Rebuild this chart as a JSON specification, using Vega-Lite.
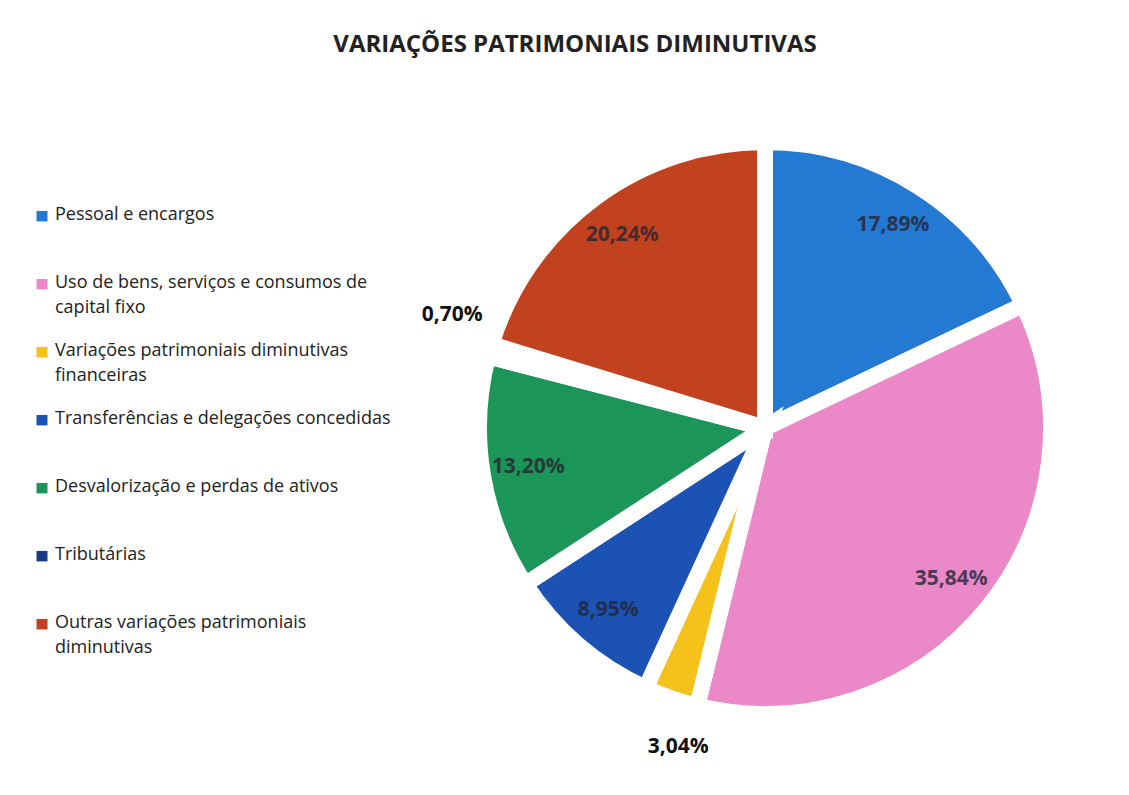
{
  "$schema": "https://vega.github.io/schema/vega-lite/v6.json",
  "width": 600,
  "height": 600,
  "autosize": {"type": "none"},
  "padding": {"left": 465, "top": 128, "right": 64, "bottom": 67},
  "background": "white",
  "title": {
    "text": "VARIAÇÕES PATRIMONIAIS DIMINUTIVAS",
    "font": "Open Sans",
    "fontSize": 24,
    "fontWeight": "bold",
    "color": "#222222",
    "anchor": "middle",
    "dx": -190,
    "offset": 53
  },
  "data": {
    "values": [
      {"categoria": "Pessoal e encargos", "valor": 17.89, "ordem": 1},
      {"categoria": "Uso de bens, serviços e consumos de capital fixo", "valor": 35.84, "ordem": 2},
      {"categoria": "Variações patrimoniais diminutivas financeiras", "valor": 3.04, "ordem": 3},
      {"categoria": "Transferências e delegações concedidas", "valor": 8.95, "ordem": 4},
      {"categoria": "Desvalorização e perdas de ativos", "valor": 13.20, "ordem": 5},
      {"categoria": "Tributárias", "valor": 0.70, "ordem": 6},
      {"categoria": "Outras variações patrimoniais diminutivas", "valor": 20.24, "ordem": 7}
    ]
  },
  "transform": [
    {"calculate": "replace(format(datum.valor, '.2f'), '.', ',') + '%'", "as": "rotulo"}
  ],
  "layer": [
    {
      "mark": {"type": "arc", "outerRadius": 286, "stroke": "white", "strokeWidth": 16},
      "encoding": {
        "theta": {"field": "valor", "type": "quantitative", "stack": true},
        "order": {"field": "ordem", "type": "quantitative"},
        "color": {
          "field": "categoria",
          "type": "nominal",
          "scale": {
            "domain": [
              "Pessoal e encargos",
              "Uso de bens, serviços e consumos de capital fixo",
              "Variações patrimoniais diminutivas financeiras",
              "Transferências e delegações concedidas",
              "Desvalorização e perdas de ativos",
              "Tributárias",
              "Outras variações patrimoniais diminutivas"
            ],
            "range": ["#2479d2", "#ea88c8", "#f4c21a", "#1c52b4", "#1b9558", "#1a3a86", "#c2411f"]
          },
          "legend": {
            "orient": "none",
            "legendX": -432,
            "legendY": 69,
            "title": null,
            "symbolType": "M-1,0.9H1V2.8H-1Z",
            "symbolSize": 121,
            "symbolStrokeWidth": 0,
            "labelFont": "Open Sans",
            "labelFontSize": 18,
            "labelColor": "#222222",
            "labelLimit": 420,
            "labelBaseline": "top",
            "labelOffset": 4,
            "gridAlign": "all",
            "rowPadding": 16,
            "labelExpr": "datum.label == 'Uso de bens, serviços e consumos de capital fixo' ? ['Uso de bens, serviços e consumos de', 'capital fixo'] : datum.label == 'Variações patrimoniais diminutivas financeiras' ? ['Variações patrimoniais diminutivas', 'financeiras'] : datum.label == 'Outras variações patrimoniais diminutivas' ? ['Outras variações patrimoniais', 'diminutivas'] : datum.label"
          }
        }
      }
    },
    {
      "mark": {"type": "text", "font": "Open Sans", "fontSize": 21, "fontWeight": "bold", "radius": 240, "opacity": 0.8},
      "encoding": {
        "theta": {"field": "valor", "type": "quantitative", "stack": true},
        "order": {"field": "ordem", "type": "quantitative"},
        "text": {
          "field": "rotulo",
          "type": "nominal",
          "condition": {"test": "datum.valor < 5", "value": ""}
        },
        "color": {"value": "#262633"}
      }
    },
    {
      "mark": {"type": "text", "font": "Open Sans", "fontSize": 21, "fontWeight": "bold", "radius": 325, "dy": -25},
      "encoding": {
        "theta": {"field": "valor", "type": "quantitative", "stack": true},
        "order": {"field": "ordem", "type": "quantitative"},
        "text": {
          "field": "rotulo",
          "type": "nominal",
          "condition": {"test": "datum.valor >= 1", "value": ""}
        },
        "color": {"value": "#111111"}
      }
    },
    {
      "mark": {"type": "text", "font": "Open Sans", "fontSize": 21, "fontWeight": "bold", "radius": 325, "dx": 20, "dy": 12},
      "encoding": {
        "theta": {"field": "valor", "type": "quantitative", "stack": true},
        "order": {"field": "ordem", "type": "quantitative"},
        "text": {
          "field": "rotulo",
          "type": "nominal",
          "condition": {"test": "datum.valor < 1 || datum.valor >= 5", "value": ""}
        },
        "color": {"value": "#111111"}
      }
    }
  ],
  "config": {
    "view": {"stroke": null},
    "style": {"guide-label": {"lineHeight": 25}}
  }
}
